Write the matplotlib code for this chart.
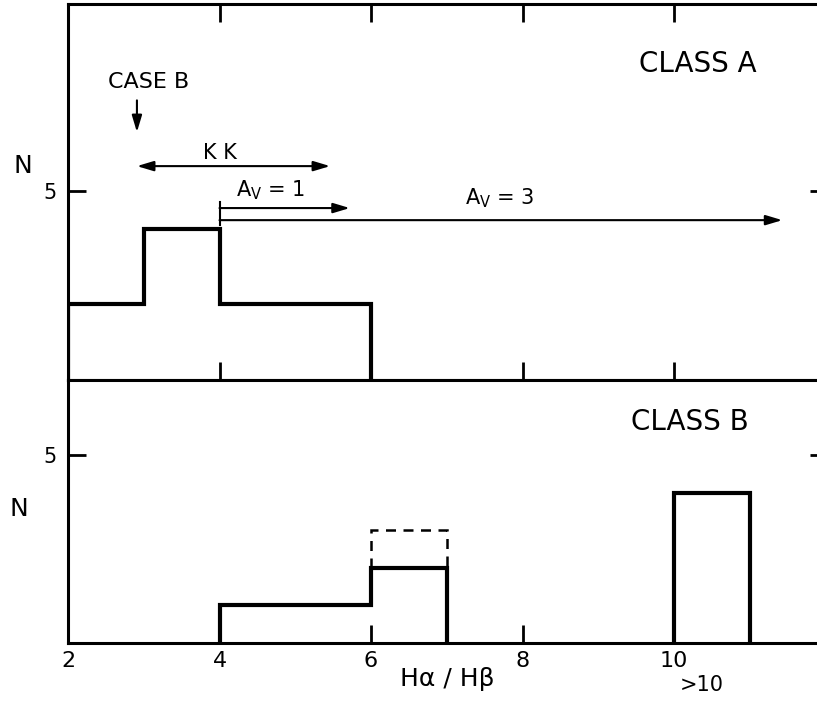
import matplotlib
matplotlib.use("Agg")
import matplotlib.pyplot as plt

# Hα/Hβ histograms for the two classes
edges_a = [2, 3, 4, 6]
counts_a = [2, 4, 2]

edges_b = [4, 6, 7]
counts_b = [1, 2]

# upper limit (dashed) in the 6-7 bin
edges_b_dash = [6, 7]
counts_b_dash = [3]
base_b_dash = 2

# ratios above 10
edges_b_high = [10, 11]
counts_b_high = [4]

xticks = [2, 4, 6, 8, 10]
xticklabels = ["2", "4", "6", "8", "10"]

# reference ranges drawn as arrows
case_b_x = 2.91
kk_range = (2.91, 5.46)
av1_range = (4.0, 5.72)
av3_range = (4.0, 11.43)

plt.rcParams["font.family"] = ["DejaVu Sans"]

W, H = 817, 712
fig = plt.figure(figsize=(W / 100, H / 100), dpi=100)

left = 68 / W
width = 0.93
x_right = 2 + width * W / 75.75

ax_a = fig.add_axes([left, (H - 380) / H, width, (380 - 4) / H])
ax_b = fig.add_axes([left, (H - 643) / H, width, (643 - 380) / H])

spine_lw = 2.2
hist_lw = 3.0

for ax in (ax_a, ax_b):
    ax.set_xlim(2, x_right)
    for s in ax.spines.values():
        s.set_linewidth(spine_lw)
    ax.spines["right"].set_visible(False)
    ax.set_yticks([5])
    ax.tick_params(axis="y", which="both", direction="in", length=13, width=2,
                   left=True, right=True, labelsize=15, pad=8)
    ax.set_xticks(xticks)

ax_a.set_ylim(0, 9.95)
ax_b.set_ylim(0, 7.0)

ax_a.tick_params(axis="x", direction="in", length=13, width=2,
                 top=True, bottom=True, labelbottom=False)
ax_b.tick_params(axis="x", direction="in", length=13, width=2,
                 top=False, bottom=True, labelsize=16, pad=6)
ax_b.set_xticklabels(xticklabels)

# histograms
ax_a.stairs(counts_a, edges_a, baseline=0, color="black", lw=hist_lw)
ax_b.stairs(counts_b, edges_b, baseline=0, color="black", lw=hist_lw)
ax_b.stairs(counts_b_dash, edges_b_dash, baseline=base_b_dash, color="black",
            lw=1.8, linestyle=(0, (4, 3)))
ax_b.stairs(counts_b_high, edges_b_high, baseline=0, color="black", lw=hist_lw)

# labels
ax_a.text(-0.06, 0.57, "N", transform=ax_a.transAxes, fontsize=18,
          ha="center", va="center")
ax_b.text(-0.065, 0.51, "N", transform=ax_b.transAxes, fontsize=18,
          ha="center", va="center")
ax_a.text(10.32, 8.36, "CLASS A", fontsize=20, ha="center", va="center")
ax_b.text(10.21, 5.88, "CLASS B", fontsize=20, ha="center", va="center")

ax_b.text(7.0, -0.135, "Hα / Hβ", transform=ax_b.get_xaxis_transform(),
          fontsize=18, ha="center", va="center")
ax_b.text(10.37, -0.16, ">10", transform=ax_b.get_xaxis_transform(),
          fontsize=15, ha="center", va="center")

# annotations in the class A panel
arrow_kw = dict(arrowstyle="-|>,head_length=1.0,head_width=0.3",
                color="black", lw=1.5, shrinkA=0, shrinkB=0)
ax_a.text(3.07, 7.88, "CASE B", fontsize=16, ha="center", va="center")
ax_a.annotate("", xy=(case_b_x, 6.56), xytext=(case_b_x, 7.4), arrowprops=arrow_kw)

ax_a.annotate("", xy=(kk_range[0], 5.66), xytext=(kk_range[1], 5.66),
              arrowprops=dict(arrowstyle="<|-|>,head_length=1.0,head_width=0.3",
                              color="black", lw=1.5, shrinkA=0, shrinkB=0))
ax_a.text(4.0, 6.0, "K K", fontsize=15, ha="center", va="center")

av1_y, av3_y = 4.55, 4.23
ax_a.annotate("", xy=(av1_range[1], av1_y), xytext=(av1_range[0], av1_y), arrowprops=arrow_kw)
ax_a.annotate("", xy=(av3_range[1], av3_y), xytext=(av3_range[0], av3_y), arrowprops=arrow_kw)
ax_a.plot([4.0, 4.0], [4.1, 4.71], color="black", lw=1.5)
ax_a.text(4.67, 5.03, r"A$_\mathregular{V}$ = 1", fontsize=15, ha="center", va="center")
ax_a.text(7.70, 4.81, r"A$_\mathregular{V}$ = 3", fontsize=15, ha="center", va="center")

fig.savefig("out.png", dpi=100)
